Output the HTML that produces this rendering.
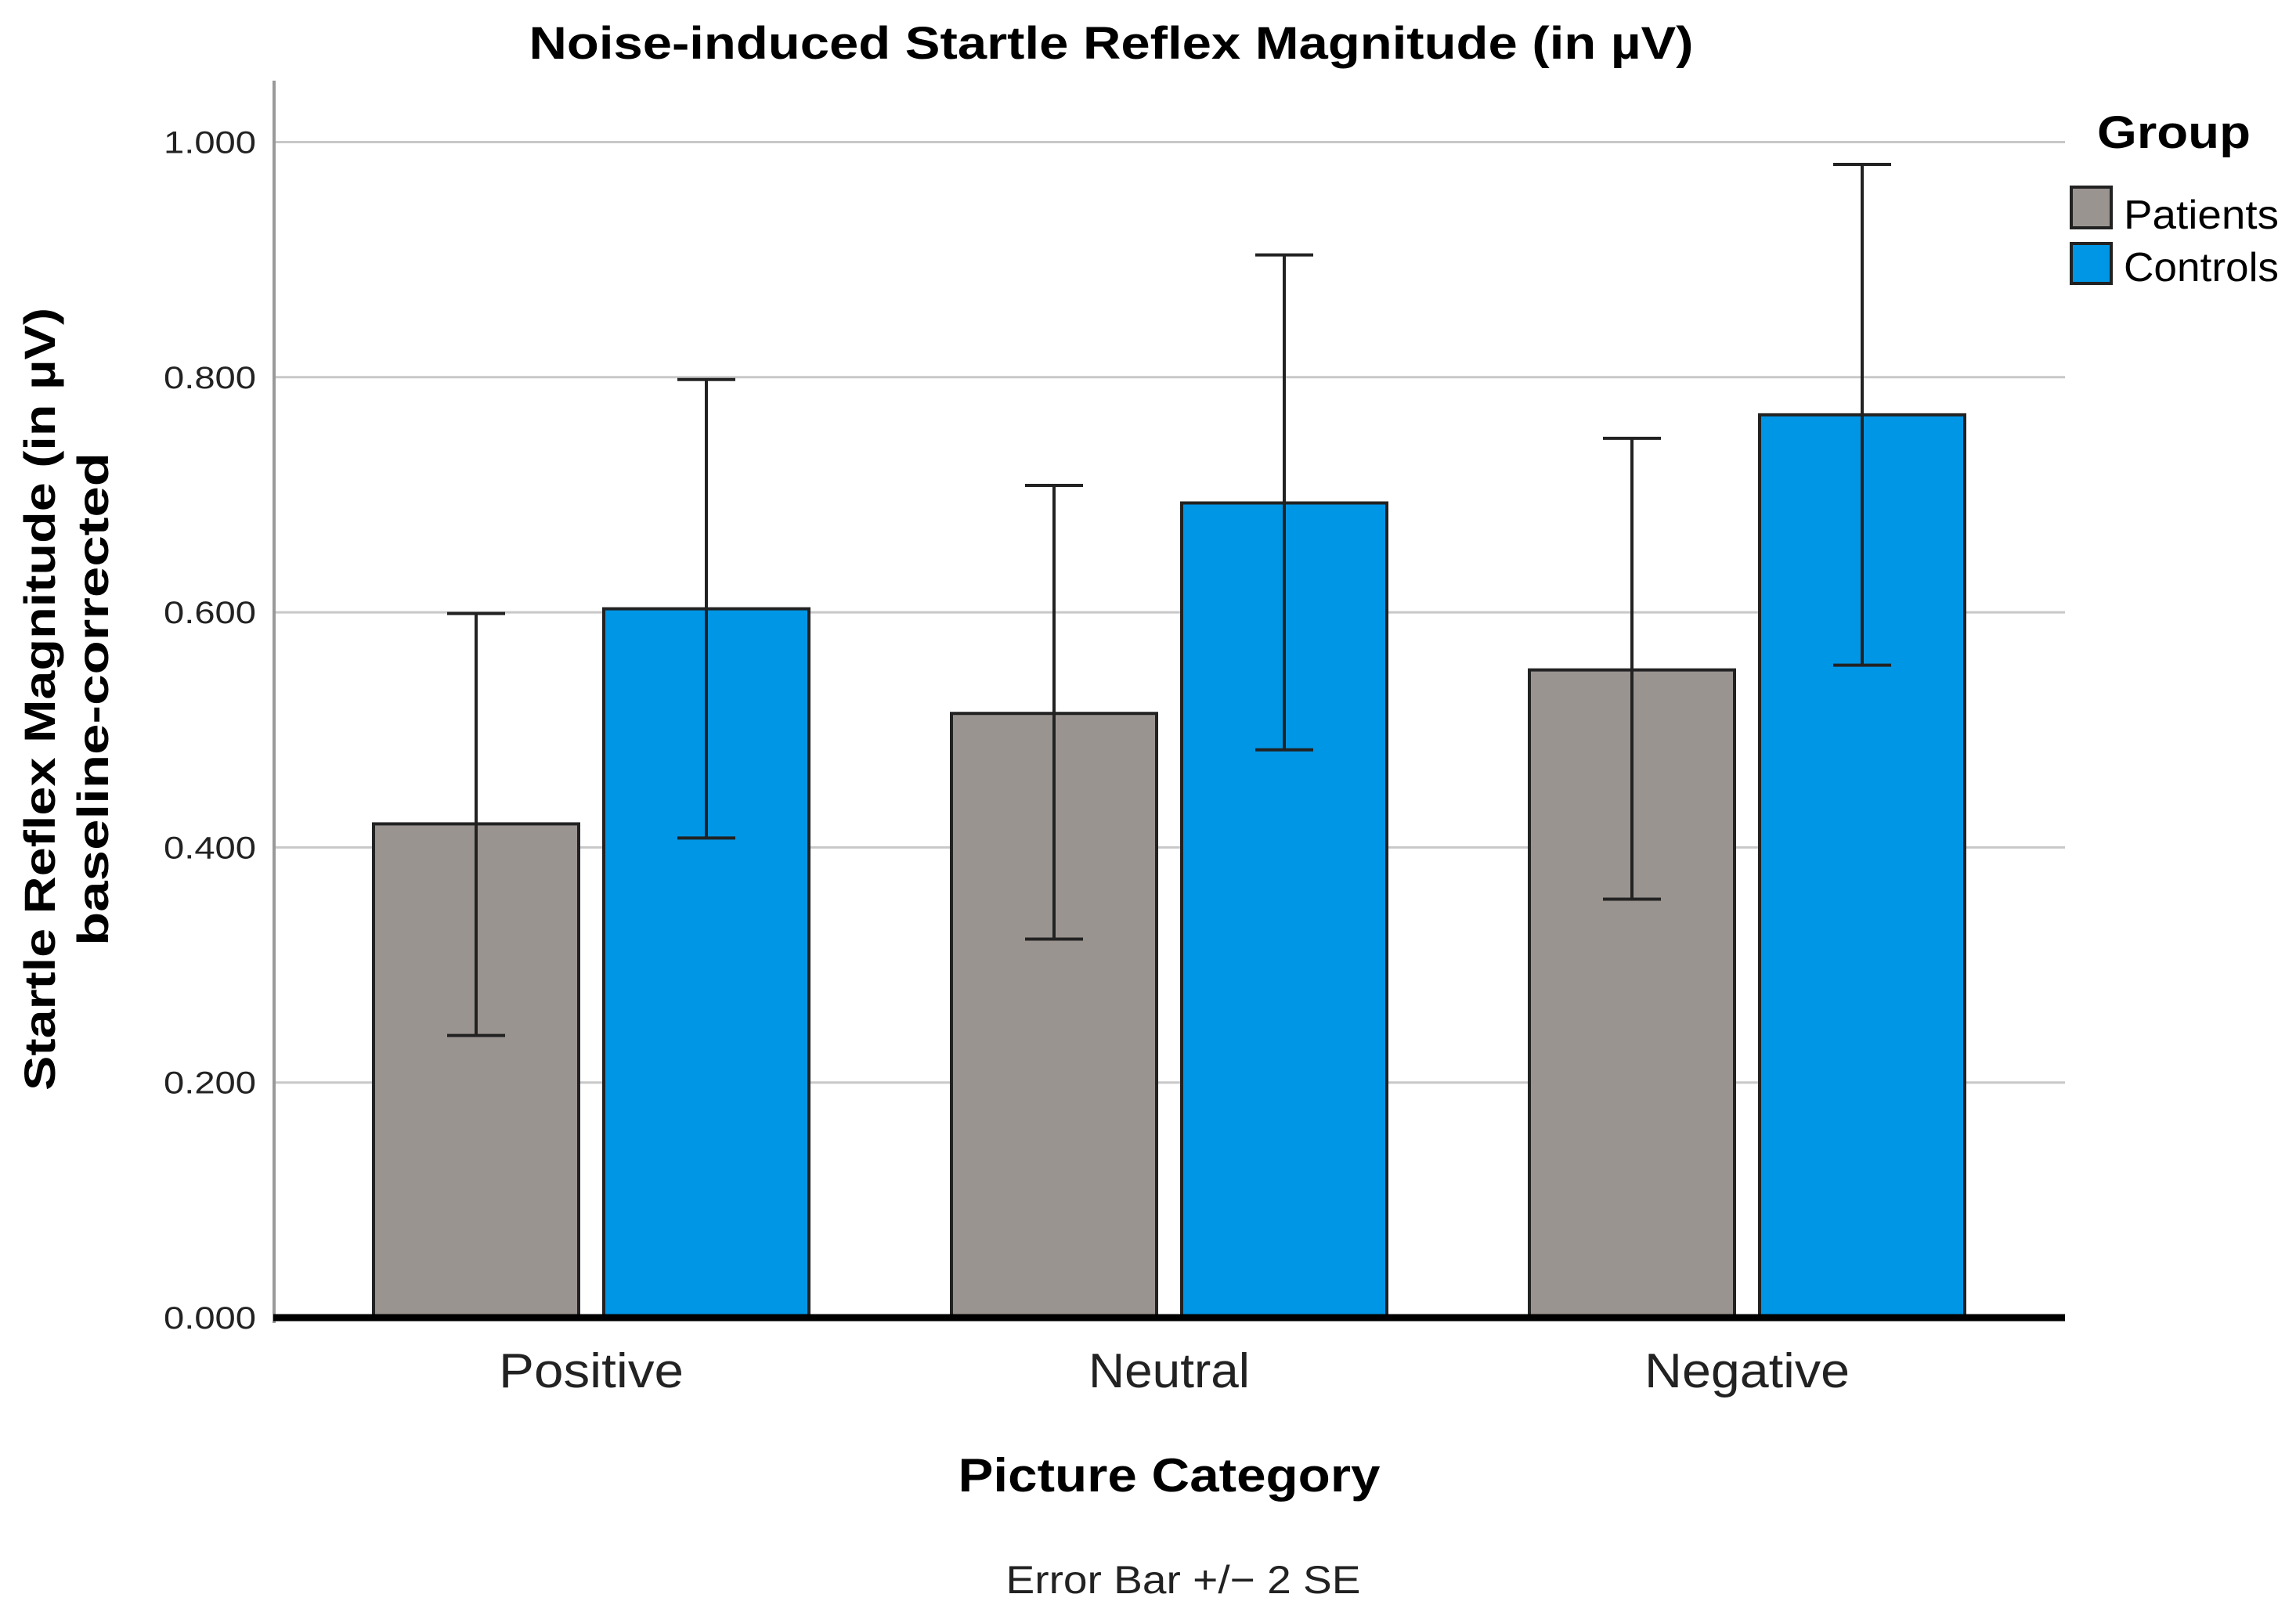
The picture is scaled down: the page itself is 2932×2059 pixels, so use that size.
<!DOCTYPE html>
<html><head><meta charset="utf-8"><style>html,body{margin:0;padding:0;background:#fff}svg{display:block}</style></head>
<body>
<svg id="chart" width="2932" height="2059" viewBox="0 0 2932 2059" xmlns="http://www.w3.org/2000/svg" font-family="Liberation Sans, sans-serif">
<rect x="0" y="0" width="2932" height="2059" fill="#fff"/>
<text x="1419" y="75" text-anchor="middle" font-size="58" font-weight="bold" textLength="1487" lengthAdjust="spacingAndGlyphs" fill="#000">Noise-induced Startle Reflex Magnitude (in µV)</text>
<g id="grid"></g>
<g id="yticks"></g>
<line x1="350" y1="103" x2="350" y2="1690" stroke="#999" stroke-width="4"/>
<g id="bars"></g>
<g id="errs"></g>
<line x1="349" y1="1683" x2="2637" y2="1683" stroke="#000" stroke-width="9"/>
<g id="xlabels"></g>
<text transform="translate(70,893) rotate(-90)" text-anchor="middle" font-size="56" font-weight="bold" textLength="1000" lengthAdjust="spacingAndGlyphs">Startle Reflex Magnitude (in µV)</text>
<text transform="translate(138,893) rotate(-90)" text-anchor="middle" font-size="56" font-weight="bold" textLength="630" lengthAdjust="spacingAndGlyphs">baseline-corrected</text>
<text x="1493" y="1905" text-anchor="middle" font-size="60" font-weight="bold" textLength="539" lengthAdjust="spacingAndGlyphs">Picture Category</text>
<text x="1511" y="2035" text-anchor="middle" font-size="50" textLength="453" lengthAdjust="spacingAndGlyphs" fill="#222">Error Bar +/− 2 SE</text>
<g>
<text x="2678" y="189" font-size="58" font-weight="bold" textLength="196" lengthAdjust="spacingAndGlyphs">Group</text>
<rect x="2645" y="239" width="51" height="52" fill="#9a9490" stroke="#222" stroke-width="4"/>
<text x="2712" y="292" font-size="52" textLength="198" lengthAdjust="spacingAndGlyphs">Patients</text>
<rect x="2645" y="311" width="51" height="51" fill="#0096e6" stroke="#222" stroke-width="4"/>
<text x="2712" y="359" font-size="52" textLength="198" lengthAdjust="spacingAndGlyphs">Controls</text>
</g>
</svg>
<script>
const categories = ["Positive", "Neutral", "Negative"];
const patients = [0.420, 0.514, 0.551];
const controls = [0.603, 0.693, 0.768];
const patientsHigh = [0.599, 0.708, 0.748];
const patientsLow = [0.240, 0.322, 0.356];
const controlsHigh = [0.798, 0.904, 0.981];
const controlsLow = [0.408, 0.483, 0.555];
const yTicks = [0, 0.2, 0.4, 0.6, 0.8, 1.0];
const yTickLabels = ["0.000", "0.200", "0.400", "0.600", "0.800", "1.000"];

const NS = "http://www.w3.org/2000/svg";
const labelWidths = {Positive: 236, Neutral: 206, Negative: 262};
function y(v){ return 1683 - v * 1501.5; }
function xc(i){ return 755 + i * 738; }
function mk(tag, attrs, parent){ const e = document.createElementNS(NS, tag); for (const k in attrs) e.setAttribute(k, attrs[k]); parent.appendChild(e); return e; }
const grid = document.getElementById('grid'), yt = document.getElementById('yticks');
yTicks.forEach((t, i) => {
  if (t > 0) {
    const l = mk('line', {x1: 350, x2: 2637, y1: y(t), y2: y(t), stroke: '#c8c8c8', 'stroke-width': 3}, grid);
    
    
  }
  const tx = mk('text', {x: 327, y: y(t) + 14, 'text-anchor': 'end', 'font-size': 40, fill: '#222', textLength: 118, lengthAdjust: 'spacingAndGlyphs'}, yt);
  tx.textContent = yTickLabels[i];
  
  
});
const bars = document.getElementById('bars'), errs = document.getElementById('errs'), xl = document.getElementById('xlabels');
const BW = 262, GAP = 32;
categories.forEach((c, i) => {
  const c0 = xc(i);
  const px = c0 - GAP / 2 - BW, cx = c0 + GAP / 2;
  const b1 = mk('rect', {x: px, y: y(patients[i]), width: BW, height: y(0) - y(patients[i]), fill: '#9a9490', stroke: '#222', 'stroke-width': 4}, bars);
  
  
  const b2 = mk('rect', {x: cx, y: y(controls[i]), width: BW, height: y(0) - y(controls[i]), fill: '#0096e6', stroke: '#222', 'stroke-width': 4}, bars);
  
  
  [[px + BW / 2, patientsHigh[i], patientsLow[i], 'patients'], [cx + BW / 2, controlsHigh[i], controlsLow[i], 'controls']].forEach(([m, hi, lo, g]) => {
    const eg = mk('g', {stroke: '#222', 'stroke-width': 4}, errs);
    
    
    mk('line', {x1: m, x2: m, y1: y(hi), y2: y(lo)}, eg);
    mk('line', {x1: m - 37, x2: m + 37, y1: y(hi), y2: y(hi)}, eg);
    mk('line', {x1: m - 37, x2: m + 37, y1: y(lo), y2: y(lo)}, eg);
  });
  const attrs = {x: c0, y: 1772, 'text-anchor': 'middle', 'font-size': 62, fill: '#222'};
  if (labelWidths[c]) { attrs.textLength = labelWidths[c]; attrs.lengthAdjust = 'spacingAndGlyphs'; }
  const t = mk('text', attrs, xl);
  t.textContent = c;
  
  
});
</script>
</body></html>
